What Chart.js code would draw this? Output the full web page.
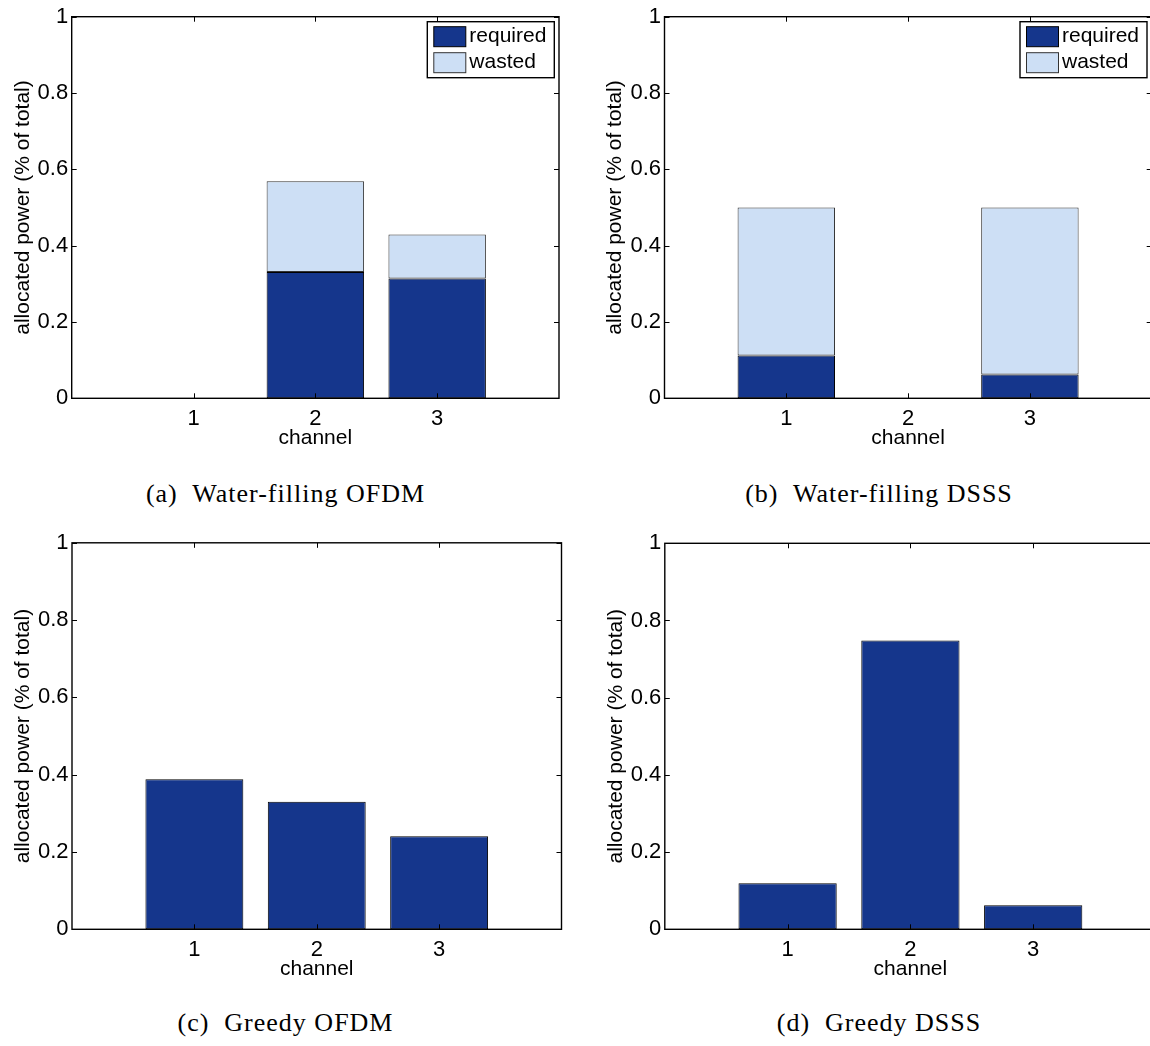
<!DOCTYPE html>
<html>
<head>
<meta charset="utf-8">
<script src="https://cdn.jsdelivr.net/npm/chart.js"></script>
<style>
html,body{margin:0;padding:0;background:#fff;width:1150px;height:1046px;overflow:hidden;position:relative}
.pane{position:absolute}
.pane canvas{display:block}
.cap{position:absolute;width:400px;text-align:center;font-family:"Liberation Serif",serif;font-size:26px;letter-spacing:1px;line-height:30px;color:#000;white-space:nowrap}
</style>
</head>
<body>
<div class="pane" style="left:0;top:0"><canvas id="cA" width="575" height="470"></canvas></div>
<div class="pane" style="left:575px;top:0"><canvas id="cB" width="600" height="470"></canvas></div>
<div class="pane" style="left:0;top:520px"><canvas id="cC" width="575" height="470"></canvas></div>
<div class="pane" style="left:575px;top:520px"><canvas id="cD" width="600" height="470"></canvas></div>
<div class="cap" style="left:85.5px;top:479px">(a)&nbsp; Water-filling OFDM</div>
<div class="cap" style="left:679px;top:479px">(b)&nbsp; Water-filling DSSS</div>
<div class="cap" style="left:85.5px;top:1008px">(c)&nbsp; Greedy OFDM</div>
<div class="cap" style="left:679px;top:1008px">(d)&nbsp; Greedy DSSS</div>
<script>
// Veriler
const channels = [1, 2, 3];
const yTicks = [0, 0.2, 0.4, 0.6, 0.8, 1];
const seriesNames = ["required", "wasted"];
// (a) water-filling OFDM
const wfOfdmRequired = [0, 0.331, 0.314];
const wfOfdmWasted = [0, 0.238, 0.115];
// (b) water-filling DSSS
const wfDsssRequired = [0.112, 0, 0.0625];
const wfDsssWasted = [0.388, 0, 0.4375];
// (c) greedy OFDM, (d) greedy DSSS
const greedyOfdm = [0.388, 0.330, 0.241];
const greedyDsss = [0.119, 0.748, 0.062];

const DARK = "#15368c", LIGHT = "#cddff5";
const FONT = "'Liberation Sans', Arial, sans-serif";

function pts(vals){ return channels.map((c,i)=>({x:c, y:vals[i]})); }
function ds(label, vals, bg, border){
  return {label, data: pts(vals), backgroundColor: bg, borderColor: border, borderWidth: 1,
    borderSkipped: false, barPercentage: 0.8, categoryPercentage: 1, stack: "s"};
}

// kutu, ic tikler ve lejant (matlab gibi)
const matPlugin = {
  id: "matFrame",
  afterDatasetsDraw(chart, args, opts){
    const {ctx, chartArea: a, scales: {x, y}} = chart;
    ctx.save();
    ctx.strokeStyle = "#000"; ctx.lineWidth = 1;
    ctx.beginPath();
    yTicks.forEach(v => {
      const py = Math.round(y.getPixelForValue(v)) + 0.5;
      ctx.moveTo(a.left, py); ctx.lineTo(a.left + 5, py);
      ctx.moveTo(a.right, py); ctx.lineTo(a.right - 5, py);
    });
    channels.forEach(c => {
      const px = Math.round(x.getPixelForValue(c)) + 0.5;
      ctx.moveTo(px, a.bottom); ctx.lineTo(px, a.bottom - 5);
      ctx.moveTo(px, a.top); ctx.lineTo(px, a.top + 5);
    });
    ctx.stroke();
    ctx.lineWidth = 1.4;
    ctx.strokeRect(a.left, a.top, a.right - a.left, a.bottom - a.top);
    if(opts.legend){
      const bw = 127, bh = 56, bx = a.right - 4.7 - bw, by = a.top + 5;
      ctx.fillStyle = "#fff"; ctx.fillRect(bx, by, bw, bh);
      ctx.strokeStyle = "#000"; ctx.strokeRect(bx, by, bw, bh);
      chart.data.datasets.forEach((d, i) => {
        const sy = by + 5 + i * 26;
        ctx.fillStyle = d.backgroundColor; ctx.fillRect(bx + 6.5, sy, 32, 20);
        ctx.lineWidth = 1; ctx.strokeStyle = d.borderColor; ctx.strokeRect(bx + 6.5, sy, 32, 20);
        ctx.fillStyle = "#000"; ctx.font = "21px " + FONT;
        ctx.textBaseline = "middle"; ctx.textAlign = "left";
        ctx.fillText(d.label, bx + 42, sy + 10);
      });
    }
    ctx.restore();
  }
};

function makeChart(id, W, H, pl, datasets, legend){
  return new Chart(document.getElementById(id), {
    type: "bar",
    data: {datasets},
    plugins: [matPlugin],
    options: {
      responsive: false, animation: false,
      layout: {padding: {top: pl.t, right: W - pl.r, left: 0, bottom: 0}},
      plugins: {legend: {display: false}, tooltip: {enabled: false}, matFrame: {legend}},
      scales: {
        x: {type: "linear", min: 0, max: 4, offset: false,
          afterBuildTicks: s => { s.ticks = channels.map(v => ({value: v})); },
          afterFit: s => { s.height = H - pl.b; },
          grid: {display: false, drawTicks: false}, border: {display: false},
          ticks: {padding: 7, color: "#000", font: {family: FONT, size: 22}, callback: v => String(v)},
          title: {display: true, text: "channel", color: "#000", font: {family: FONT, size: 21},
            padding: {top: 0, bottom: H - pl.b - 39.5 - 12.6}}},
        y: {min: 0, max: 1, stacked: true,
          afterBuildTicks: s => { s.ticks = yTicks.map(v => ({value: v})); },
          afterFit: s => { s.width = pl.l; },
          grid: {display: false, drawTicks: false}, border: {display: false},
          ticks: {padding: 3.5, color: "#000", font: {family: FONT, size: 22}, callback: v => String(v)},
          title: {display: true, text: "allocated power (% of total)", color: "#000", font: {family: FONT, size: 21},
            padding: {top: pl.l - 48.8 - 12.6, bottom: 0}}}
      }
    }
  });
}

makeChart("cA", 575, 470, {l: 71.7, t: 14, r: 559, b: 398.3},
  [ds(seriesNames[0], wfOfdmRequired, DARK, "#000"), ds(seriesNames[1], wfOfdmWasted, LIGHT, "#333")], true);
makeChart("cB", 600, 470, {l: 89.5, t: 14, r: 576.7, b: 398.3},
  [ds(seriesNames[0], wfDsssRequired, DARK, "#000"), ds(seriesNames[1], wfDsssWasted, LIGHT, "#333")], true);
makeChart("cC", 575, 470, {l: 72, t: 22.8, r: 561.5, b: 409.3},
  [ds(seriesNames[0], greedyOfdm, DARK, "#000")], false);
makeChart("cD", 600, 470, {l: 89.8, t: 23.3, r: 581, b: 409.3},
  [ds(seriesNames[0], greedyDsss, DARK, "#000")], false);
</script>
</body>
</html>
